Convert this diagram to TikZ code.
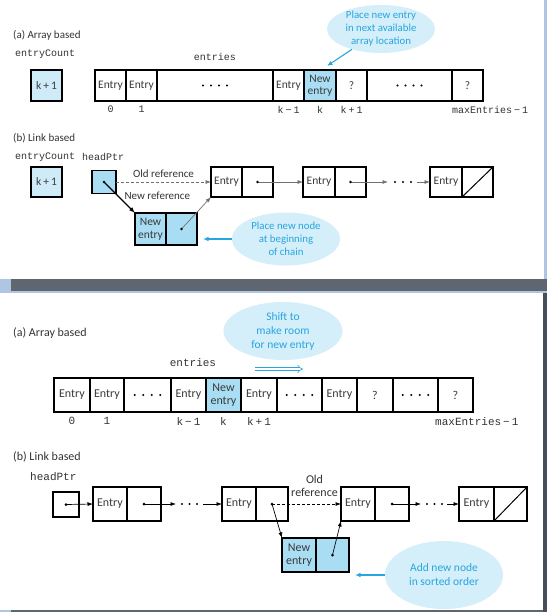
\documentclass[tikz,border=0pt]{standalone}
\usepackage{fontspec}
\setmainfont{Carlito}
\setmonofont{Liberation Mono}
\usepackage{tikz}
\usetikzlibrary{shapes,arrows,arrows.meta,positioning}
\definecolor{bubblefill}{HTML}{D4EEFA}
\definecolor{bubbleink}{HTML}{27A6DF}
\definecolor{newblue}{HTML}{A9DDF4}
\definecolor{countblue}{HTML}{CFEBF8}
\definecolor{celltext}{HTML}{3A3A3A}
\definecolor{labelink}{HTML}{333333}
\definecolor{refgray}{HTML}{707070}
\definecolor{bandgray}{HTML}{60666F}
\definecolor{edgeblue}{HTML}{AFC6E2}
\definecolor{edgedark}{HTML}{45505C}
\newcommand{\cellsize}{\fontsize{11.5}{12.5}\selectfont}
\newcommand{\labelsize}{\fontsize{11}{12}\selectfont}
\newcommand{\monosize}{\ttfamily\fontsize{10}{12}\selectfont}
\newcommand{\idxsize}{\ttfamily\fontsize{10}{12}\selectfont}
\newcommand{\bubblesize}{\fontsize{10.8}{13}\selectfont}
\newcommand{\minus}{\hspace{2pt}−\hspace{2pt}}
\newcommand{\plus}{\hspace{2pt}+\hspace{2pt}}
\tikzstyle{cell} = [rectangle, draw, line width=1.4pt, outer sep=0pt, inner sep=0pt,
    minimum height=31pt, text=celltext, align=center, font=\cellsize]
\tikzstyle{newcell} = [cell, fill=newblue]
\tikzstyle{countbox} = [cell, fill=countblue]
\tikzstyle{bubble} = [ellipse, fill=bubblefill, inner sep=0pt]
\tikzstyle{bubbletext} = [text=bubbleink, align=center, inner sep=0pt, font=\bubblesize]
\tikzstyle{partlabel} = [anchor=west, inner sep=0pt, text=labelink, font=\labelsize]
\tikzstyle{varname} = [anchor=west, inner sep=0pt, text=labelink, font=\monosize]
\tikzstyle{idxlabel} = [inner sep=0pt, text=labelink, font=\idxsize]
\tikzstyle{reflabel} = [inner sep=0pt, text=labelink, align=center, font=\labelsize]
\tikzstyle{line} = [draw, -{Latex[length=6pt, width=4.5pt]}]
\tikzstyle{refline} = [draw, line width=0.7pt, -{Latex[length=5.5pt, width=4pt]}]
\tikzstyle{oldref} = [refline, dash pattern=on 3pt off 2pt, draw=refgray]
\tikzstyle{hint} = [draw=bubbleink, line width=1.1pt, -{Latex[length=5.5pt, width=4.5pt]}]
\tikzstyle{movearrow} = [draw=bubbleink, line width=0.6pt, double=white,
    double distance=2.4pt, -{Implies}]

\begin{document}
\begin{tikzpicture}[x=1pt, y=-1pt]
    \useasboundingbox (0,0) rectangle (547,612);
    % Screen frame
    \fill[white] (0,0) rectangle (547,612);
    \fill[edgeblue] (544,0) rectangle (547,279);
    \fill[edgeblue] (0,279) rectangle (11,293);
    \fill[bandgray] (11,279) rectangle (547,291);
    \fill[edgeblue] (11,291) rectangle (547,293);
    \fill[edgedark] (543,293) rectangle (547,612);
    \fill[bandgray] (11,610) rectangle (543,612);
    \fill[edgeblue] (0,610) rectangle (11,612);

    % Top (a): place nodes
    \node [partlabel] (capA) at (13,35) {(a) Array based};
    \node [varname] (countA) at (15,54) {entryCount};
    \node [varname, anchor=center] (entA) at (215,57) {entries};
    \node [countbox, minimum width=31pt] (kA) at (46.5,85.5) {k\plus 1};
    \node [cell, minimum width=31pt] (a0) at (110.5,85.5) {Entry};
    \node [cell, minimum width=31pt, right=0pt of a0] (a1) {Entry};
    \node [cell, minimum width=116pt, right=0pt of a1] (a2) {};
    \node [cell, minimum width=31pt, right=0pt of a2] (a3) {Entry};
    \node [newcell, minimum width=32pt, right=0pt of a3] (a4) {New\\entry};
    \node [cell, minimum width=31pt, right=0pt of a4] (a5) {?};
    \node [cell, minimum width=85pt, right=0pt of a5] (a6) {};
    \node [cell, minimum width=31pt, right=0pt of a6] (a7) {?};
    \node [idxlabel, below=5pt of a0] {0};
    \node [idxlabel, below=5pt of a1] {1};
    \node [idxlabel, below=5pt of a3] {k\minus 1};
    \node [idxlabel, below=5pt of a4] {k};
    \node [idxlabel, below=5pt of a5] {k\plus 1};
    \node [idxlabel, anchor=north west] at ([yshift=-5pt]a7.south west) {maxEntries\minus 1};
    \node [bubble, minimum width=108pt, minimum height=48pt] (tipA) at (381,29) {};
    \node [bubbletext] at (tipA) {Place new entry\\in next available\\array location};
    \coordinate (hintA) at (327,66);
    % Top (a): draw edges
    \path [hint] (tipA.215) -- (hintA);

    % Top (b): place nodes
    \node [partlabel] (capB) at (13,138) {(b) Link based};
    \node [varname] (countB) at (15,157) {entryCount};
    \node [varname] (headB) at (82,157) {headPtr};
    \node [countbox, minimum width=31pt, minimum height=30pt] (kB) at (46.5,182) {k\plus 1};
    \node [newcell, minimum width=24pt, minimum height=23pt] (hpB) at (104,182) {};
    \node [cell, minimum width=31pt, minimum height=30pt] (t1) at (226.5,182) {Entry};
    \node [cell, minimum width=31pt, minimum height=30pt, right=0pt of t1] (t1p) {};
    \node [cell, minimum width=32pt, minimum height=30pt] (t2) at (319,182) {Entry};
    \node [cell, minimum width=31pt, minimum height=30pt, right=0pt of t2] (t2p) {};
    \node [cell, minimum width=32pt, minimum height=30pt] (t3) at (446,182) {Entry};
    \node [cell, minimum width=31pt, minimum height=30pt, right=0pt of t3] (t3p) {};
    \node [newcell, minimum width=31pt, minimum height=32pt] (nn) at (150.5,229) {New\\entry};
    \node [newcell, minimum width=31pt, minimum height=32pt, right=0pt of nn] (nnp) {};
    \node [bubble, minimum width=108pt, minimum height=53pt] (tipB) at (286,239) {};
    \node [bubbletext] at (tipB) {Place new node\\at beginning\\of chain};
    \coordinate (gapA) at (388,182);
    \coordinate (gapB) at (417,182);
    \coordinate (hintB) at (203,239);
    % Top (b): draw edges
    \path [oldref] (hpB.east) -- node [reflabel, above=4pt] {Old reference} (t1.west);
    \path [line, line width=1.1pt] (hpB.center) -- node [reflabel, pos=0.45, anchor=west, xshift=6pt] {New reference} (nn.north west);
    \path [refline, draw=refgray] (nnp.center) -- (t1.south west);
    \path [refline, draw=refgray] (t1p.center) -- (t2.west);
    \path [refline, draw=refgray] (t2p.center) -- (gapA);
    \path [refline, draw=refgray] (gapB) -- (t3.west);
    \path [hint] (tipB.west) -- (hintB);
    \foreach \n in {hpB,t1p,t2p,nnp}
        \fill (\n) circle (1.4pt);
    \foreach \x in {395,403,411}
        \fill (\x,182) circle (1.1pt);
    \foreach \c in {a2,a6}
        \foreach \i in {-1.5,-0.5,0.5,1.5}
            \fill ([xshift=\i*8pt]\c.center) circle (1.1pt);
    \draw [line width=1pt] (t3p.south west) -- (t3p.north east);

    % Bottom: larger type
    \renewcommand{\cellsize}{\fontsize{12}{13}\selectfont}
    \renewcommand{\labelsize}{\fontsize{12}{13}\selectfont}
    \renewcommand{\monosize}{\ttfamily\fontsize{11}{13}\selectfont}
    \renewcommand{\idxsize}{\ttfamily\fontsize{11}{13}\selectfont}
    \renewcommand{\bubblesize}{\fontsize{11.5}{14}\selectfont}

    % Bottom (a): place nodes
    \node [partlabel] (capC) at (13,333) {(a) Array based};
    \node [bubble, minimum width=119pt, minimum height=58pt] (tipC) at (283,331) {};
    \node [bubbletext] at (tipC) {Shift to\\make room\\for new entry};
    \node [varname, anchor=center] (entC) at (193,363) {entries};
    \coordinate (moveC) at (255,369);
    \coordinate (moveD) at (303,369);
    \node [cell, minimum width=36pt, minimum height=34pt] (b0) at (72,395) {Entry};
    \node [cell, minimum width=34pt, minimum height=34pt, right=0pt of b0] (b1) {Entry};
    \node [cell, minimum width=47pt, minimum height=34pt, right=0pt of b1] (b2) {};
    \node [cell, minimum width=35pt, minimum height=34pt, right=0pt of b2] (b3) {Entry};
    \node [newcell, minimum width=35pt, minimum height=34pt, right=0pt of b3] (b4) {New\\entry};
    \node [cell, minimum width=36pt, minimum height=34pt, right=0pt of b4] (b5) {Entry};
    \node [cell, minimum width=45pt, minimum height=34pt, right=0pt of b5] (b6) {};
    \node [cell, minimum width=35pt, minimum height=34pt, right=0pt of b6] (b7) {Entry};
    \node [cell, minimum width=36pt, minimum height=34pt, right=0pt of b7] (b8) {?};
    \node [cell, minimum width=45pt, minimum height=34pt, right=0pt of b8] (b9) {};
    \node [cell, minimum width=35pt, minimum height=34pt, right=0pt of b9] (b10) {?};
    \node [idxlabel, below=5pt of b0] {0};
    \node [idxlabel, below=5pt of b1] {1};
    \node [idxlabel, below=5pt of b3] {k\minus 1};
    \node [idxlabel, below=5pt of b4] {k};
    \node [idxlabel, below=5pt of b5] {k\plus 1};
    \node [idxlabel, anchor=north west] at ([yshift=-5pt, xshift=-3pt]b10.south west) {maxEntries\minus 1};
    % Bottom (a): draw edges
    \path [movearrow] (moveC) -- (moveD);
    \foreach \c in {b2,b6,b9}
        \foreach \i in {-1.5,-0.5,0.5,1.5}
            \fill ([xshift=\i*8.5pt]\c.center) circle (1.1pt);

    % Bottom (b): place nodes
    \node [partlabel] (capD) at (13,457) {(b) Link based};
    \node [varname] (headD) at (30,477) {headPtr};
    \node [cell, minimum width=26pt, minimum height=25pt] (hpD) at (66,504.5) {};
    \node [cell, minimum width=34pt, minimum height=34pt] (l1) at (110,504) {Entry};
    \node [cell, minimum width=34pt, minimum height=34pt, right=0pt of l1] (l1p) {};
    \node [cell, minimum width=34pt, minimum height=34pt] (l2) at (239,504) {Entry};
    \node [cell, minimum width=32pt, minimum height=34pt, right=0pt of l2] (l2p) {};
    \node [cell, minimum width=34pt, minimum height=34pt] (l3) at (358,504) {Entry};
    \node [cell, minimum width=34pt, minimum height=34pt, right=0pt of l3] (l3p) {};
    \node [cell, minimum width=35pt, minimum height=34pt] (l4) at (476.5,504) {Entry};
    \node [cell, minimum width=33pt, minimum height=34pt, right=0pt of l4] (l4p) {};
    \node [newcell, minimum width=34pt, minimum height=34pt] (nd) at (299,555) {New\\entry};
    \node [newcell, minimum width=33pt, minimum height=34pt, right=0pt of nd] (ndp) {};
    \node [bubble, minimum width=118pt, minimum height=68pt] (tipD) at (444,575) {};
    \node [bubbletext] at (tipD) {Add new node\\in sorted order};
    \coordinate (gapC) at (176,504);
    \coordinate (gapD) at (203,504);
    \coordinate (gapE) at (421,504);
    \coordinate (gapF) at (447,504);
    \coordinate (hintD) at (355,575);
    % Bottom (b): draw edges
    \path [refline] (hpD.center) -- (l1.west);
    \path [refline] (l1p.center) -- (gapC);
    \path [refline] (gapD) -- (l2.west);
    \path [oldref, draw=black] (l2p.center) -- node [reflabel, above=7pt, xshift=8pt] {Old\\reference} (l3.west);
    \path [refline] (l2p.center) -- (nd.north west);
    \path [refline] (ndp.center) -- (l3.south west);
    \path [refline] (l3p.center) -- (gapE);
    \path [refline] (gapF) -- (l4.west);
    \path [hint] (tipD.west) -- (hintD);
    \foreach \n in {hpD,l1p,l2p,l3p,ndp}
        \fill (\n) circle (1.5pt);
    \foreach \x in {182,189.5,197,427,434.5,442}
        \fill (\x,504) circle (1.1pt);
    \draw [line width=1pt] (l4p.south west) -- (l4p.north east);
\end{tikzpicture}
\end{document}
